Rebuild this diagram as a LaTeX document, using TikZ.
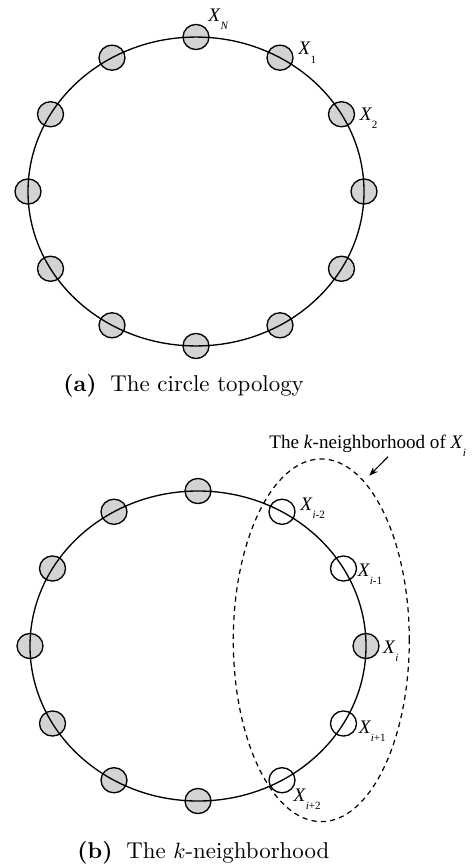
\documentclass[tikz,border=0pt]{standalone}
\usepackage{fontspec}
\newfontfamily\tms{Liberation Serif}
\usetikzlibrary{shapes.geometric,arrows.meta}
\definecolor{nodegray}{RGB}{211,211,211}
\newcommand{\xl}[1]{{\tms\fontsize{8.6}{10}\selectfont\itshape X\kern0.2pt\raisebox{-3.7pt}{\fontsize{5}{6}\selectfont\upshape #1}}}
\tikzset{
  topo/.style={ellipse, draw, line width=0.6pt, minimum width=11.7pt, minimum height=11.3pt, inner sep=0pt},
  filled/.style={topo, fill=nodegray},
  open/.style={topo, fill=white},
  lab/.style={anchor=base west, inner sep=0pt},
  captext/.style={anchor=base west, inner sep=0pt, font=\fontsize{10.3}{12}\selectfont},
  ring/.style={line width=0.6pt},
  hoodline/.style={line width=0.55pt, dash pattern=on 2.3pt off 1.9pt}
}
\begin{document}
\begin{tikzpicture}[x=0.45pt,y=-0.45pt]
\useasboundingbox (0,0) rectangle (473,866);
% (a) circle topology
\foreach \k in {0,...,11}{
  \pgfmathsetmacro\t{90-30*\k}
  \node[filled] (a\k) at ({196+168*cos(\t)},{191.5-154.5*sin(\t)}) {};
}
\draw[ring] (196,191.5) ellipse [x radius=75.6pt, y radius=69.5pt];
\node[lab] (lN) at (208,21.7) {\xl{\itshape N}};
\node[lab] (l1) at (298,55) {\xl{1}};
\node[lab] (l2) at (359.3,120) {\xl{2}};
\node[captext] (capa) at (63,391.7) {\textbf{(a)}\hskip0.6em The circle topology};
% (b) k-neighborhood
\foreach \k in {0,...,11}{
  \pgfmathsetmacro\t{90-30*\k}
  \ifnum\k=1 \def\sty{open}\else\ifnum\k=2 \def\sty{open}\else\ifnum\k=4 \def\sty{open}\else\ifnum\k=5 \def\sty{open}\else\def\sty{filled}\fi\fi\fi\fi
  \node[\sty] (b\k) at ({198+168*cos(\t)},{646-155*sin(\t)}) {};
}
\draw[ring] (198,646) ellipse [x radius=75.6pt, y radius=69.75pt];
\node[ellipse, draw, hoodline, minimum width=79.2pt, minimum height=163.2pt, inner sep=0pt] (hood) at (321.3,640.3) {};
\node[lab] (lm2) at (300,510.7) {\xl{\itshape i\upshape -2}};
\node[lab] (lm1) at (357.3,576) {\xl{\itshape i\upshape -1}};
\node[lab] (li) at (382.7,653.3) {\xl{\itshape i}};
\node[lab] (lp1) at (358.3,733.3) {\xl{\itshape i\upshape +1}};
\node[lab] (lp2) at (293.3,801.7) {\xl{\itshape i\upshape +2}};
\node[lab] (title) at (269,448.3) {\tms\fontsize{8.6}{10}\selectfont The \textit{k}-neighborhood of \xl{\itshape i}};
\coordinate (arrS) at (388,456.7);
\coordinate (arrE) at (369.3,475.7);
\draw[line width=0.5pt, -{Stealth[length=4pt,width=3pt]}] (arrS) -- (arrE);
\node[captext] (capb) at (77,858.3) {\textbf{(b)}\hskip0.6em The $k$-neighborhood};
\end{tikzpicture}
\end{document}
